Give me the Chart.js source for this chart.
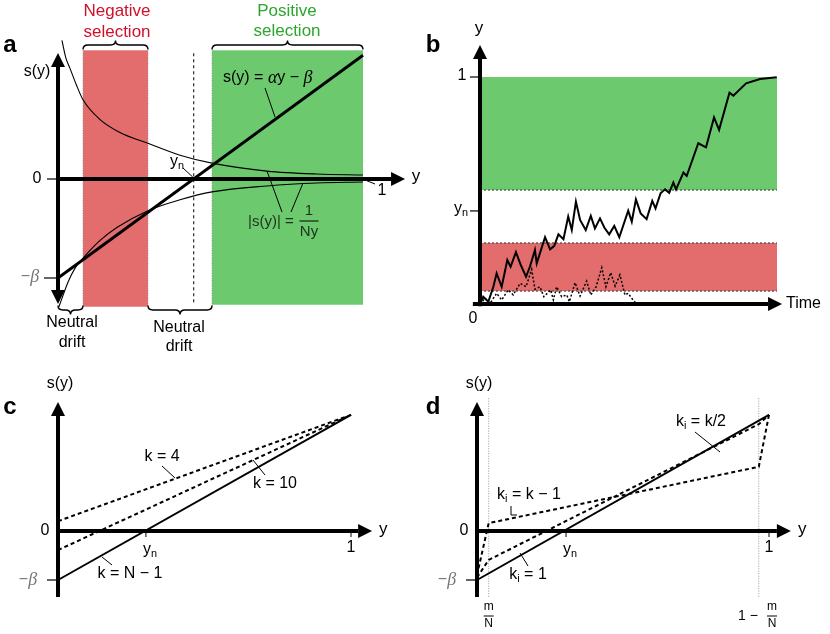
<!DOCTYPE html>
<html>
<head>
<meta charset="utf-8">
<script src="https://cdn.jsdelivr.net/npm/chart.js@4.4.1/dist/chart.umd.min.js"></script>
<style>
body { margin: 0; background: #fff; }
#fig { position: relative; width: 830px; height: 634px; }
canvas { position: absolute; }
</style>
</head>
<body>
<div id="fig">
  <canvas id="pa" width="430" height="360" style="left:0;top:0"></canvas>
  <canvas id="pb" width="415" height="360" style="left:415px;top:0"></canvas>
  <canvas id="pc" width="415" height="274" style="left:0;top:360px"></canvas>
  <canvas id="pd" width="415" height="274" style="left:415px;top:360px"></canvas>
</div>
<script>
// ---- panel a : s(y) = alpha*y - beta and |s(y)| = 1/(Ny)
const aLineX = [0, 1];
const aLineS = [-1, 1.25];
const aCurveX = [0.013, 0.026, 0.039, 0.059, 0.082, 0.138, 0.203, 0.295, 0.40, 0.505, 0.685, 0.849, 1.0];
const aUpperS = [1.40, 1.22, 1.12, 0.96, 0.80, 0.60, 0.47, 0.36, 0.24, 0.16, 0.08, 0.05, 0.04];
const aLowerX = [0.003, 0.016, 0.033, 0.056, 0.082, 0.138, 0.193, 0.295, 0.40, 0.505, 0.685, 0.849, 1.0];
const aLowerS = [-1.29, -1.18, -1.04, -0.90, -0.80, -0.62, -0.49, -0.32, -0.21, -0.13, -0.07, -0.04, -0.03];
const aNegBand = [0.082, 0.295];
const aPosBand = [0.505, 1.0];
const aYn = 0.445;

// ---- panel b : trajectories over time
const bWalkT = [0, 1.1, 2.8, 4.5, 5.6, 7.3, 9.2, 10.3, 12.1, 13.7, 15.5, 16.8, 18.5, 19.1, 21.9, 23.6, 25.0, 26.4, 28.1, 29.7,
  30.9, 32.3, 33.7, 35.6, 37.3, 38.7, 40.4, 41.9, 43.5, 45.2, 46.9, 49.9, 51.1, 52.5, 54.1, 56.1, 58.0, 59.1, 60.8, 62.3,
  63.7, 65.1, 66.0, 68.5, 69.6, 73.5, 76.1, 78.8, 80.5, 84.0, 85.3, 89.6, 94.3, 99.9];
const bWalkY = [0, 0.032, 0.010, 0.076, 0.135, 0.076, 0.194, 0.164, 0.228, 0.172, 0.120, 0.164, 0.238, 0.179, 0.294, 0.241, 0.256, 0.307, 0.285, 0.385,
  0.326, 0.451, 0.370, 0.326, 0.388, 0.333, 0.377, 0.336, 0.307, 0.344, 0.294, 0.411, 0.363, 0.461, 0.399, 0.374, 0.454, 0.421, 0.488, 0.505,
  0.490, 0.535, 0.505, 0.579, 0.564, 0.708, 0.690, 0.822, 0.767, 0.931, 0.918, 0.972, 0.991, 0.999];
const bLostT = [0, 1.7, 3.4, 5.6, 7.3, 9.5, 11.2, 13.5, 15.5, 17.4, 18.5, 20.2, 21.5, 23.8, 24.7, 25.8, 27.5, 29.2, 30.1,
  32.0, 33.7, 35.9, 37.3, 39.1, 41.0, 42.4, 44.0, 45.5, 47.1, 48.8, 49.9, 51.1, 52.7];
const bLostY = [0, 0.025, 0.003, 0.047, 0.018, 0.062, 0.040, 0.091, 0.076, 0.153, 0.065, 0.076, 0.032, 0.062, 0.018, 0.076, 0.032, 0.040, 0.010,
  0.094, 0.035, 0.101, 0.040, 0.076, 0.160, 0.076, 0.138, 0.079, 0.128, 0.040, 0.047, 0.025, 0];
const bPosBand = [0.502, 1.0];
const bNegBand = [0.057, 0.269];
const bYn = 0.41;
const bTEnd = 100;

// ---- panel c : s(y) for different k
const cX = [0, 1];
const cKN1 = [-1, 2.37];
const cK10 = [-0.39, 2.37];
const cK4 = [0.2, 2.37];
const cYn = 0.30;

// ---- panel d : heterogeneous k_i
const dX = [0, 1];
const dK1 = [-1, 2.37];
const dKinkX = [0, 0.04, 0.965, 1];
const dKHalf = [-0.95, -0.59, 2.18, 2.37];
const dKm1 = [-0.9, 0.16, 1.31, 2.37];
const dMN = [0.04, 0.965];
const dYn = 0.305;

const SANS = '"Liberation Sans", Arial, sans-serif';
const SERIF = '"Liberation Serif", "DejaVu Serif", serif';
const RED = '#e36c6c', GREEN = '#6cc96e';
const GREY = '#777';

function pts(xs, ys) { return xs.map((x, i) => ({x: x, y: ys[i]})); }

function fontOf(s) {
  return (s.style || 'normal') + ' ' + (s.weight || 'normal') + ' ' + (s.size || 16) + 'px ' + (s.family || SANS);
}
// draws a row of text pieces, each with its own font
function rich(ctx, segs, x, y, align) {
  let total = 0;
  segs.forEach(s => { ctx.font = fontOf(s); s.w = ctx.measureText(s.t).width; total += s.w; });
  let cx = align === 'left' ? x : align === 'right' ? x - total : x - total / 2;
  ctx.save();
  ctx.textAlign = 'left';
  ctx.textBaseline = 'middle';
  segs.forEach(s => {
    ctx.font = fontOf(s);
    ctx.fillStyle = s.color || '#000';
    ctx.fillText(s.t, cx, y + (s.dy || 0));
    cx += s.w;
  });
  ctx.restore();
}
function txt(ctx, t, x, y, o) {
  rich(ctx, [Object.assign({t: t}, o || {})], x, y, (o && o.align) || 'center');
}
function seg(ctx, x1, y1, x2, y2, w, dash, color) {
  ctx.save();
  ctx.lineWidth = w || 1;
  ctx.strokeStyle = color || '#000';
  ctx.setLineDash(dash || []);
  ctx.beginPath(); ctx.moveTo(x1, y1); ctx.lineTo(x2, y2); ctx.stroke();
  ctx.restore();
}
function arrow(ctx, x1, y1, x2, y2) {
  const hl = 14, hw = 7;
  const a = Math.atan2(y2 - y1, x2 - x1);
  const bx = x2 - hl * Math.cos(a), by = y2 - hl * Math.sin(a);
  seg(ctx, x1, y1, bx, by, 4);
  ctx.save();
  ctx.fillStyle = '#000';
  ctx.beginPath();
  ctx.moveTo(x2, y2);
  ctx.lineTo(bx + hw * Math.sin(a), by - hw * Math.cos(a));
  ctx.lineTo(bx - hw * Math.sin(a), by + hw * Math.cos(a));
  ctx.closePath(); ctx.fill();
  ctx.restore();
}
// curly brace, tip = -1 points up, +1 points down
function brace(ctx, x1, x2, y, tip) {
  const h = 4.5, r = 5, xm = (x1 + x2) / 2;
  ctx.save();
  ctx.lineWidth = 1.4; ctx.strokeStyle = '#000';
  ctx.beginPath();
  ctx.moveTo(x1, y - tip * h);
  ctx.quadraticCurveTo(x1, y, x1 + r, y);
  ctx.lineTo(xm - r, y);
  ctx.quadraticCurveTo(xm, y, xm, y + tip * h);
  ctx.quadraticCurveTo(xm, y, xm + r, y);
  ctx.lineTo(x2 - r, y);
  ctx.quadraticCurveTo(x2, y, x2, y - tip * h);
  ctx.stroke();
  ctx.restore();
}
function frac(ctx, num, den, x, yNum, yBar, yDen, size, barW) {
  rich(ctx, num, x, yNum, 'center');
  seg(ctx, x - barW / 2, yBar, x + barW / 2, yBar, 1);
  rich(ctx, den, x, yDen, 'center');
}
const sub = (b, s, size) => [{t: b, size: size || 16}, {t: s, size: (size || 16) * 0.68, dy: 4}];
const minusBeta = [{t: '\u2212', color: GREY, size: 16}, {t: '\u03B2', family: SERIF, style: 'italic', size: 18, color: GREY}];

function makeChart(id, xr, yr, datasets, plugin) {
  return new Chart(document.getElementById(id), {
    type: 'scatter',
    data: {datasets: datasets},
    options: {
      responsive: false,
      animation: false,
      layout: {padding: 0},
      plugins: {legend: {display: false}, tooltip: {enabled: false}},
      elements: {point: {radius: 0}},
      scales: {
        x: {type: 'linear', min: xr[0], max: xr[1], display: false},
        y: {type: 'linear', min: yr[0], max: yr[1], display: false}
      }
    },
    plugins: [plugin]
  });
}
function lineDs(data, w, dash, extra) {
  return Object.assign({data: data, showLine: true, borderColor: '#000', borderWidth: w,
    borderDash: dash || [], tension: 0, pointRadius: 0, fill: false}, extra || {});
}
function scalesOf(chart) {
  const sx = chart.scales.x, sy = chart.scales.y;
  return [v => sx.getPixelForValue(v), v => sy.getPixelForValue(v)];
}

// ================= panel a
makeChart('pa', [-58 / 305, 372 / 305], [-181 / 99, 179 / 99], [
  lineDs(pts(aCurveX, aUpperS), 1.1, [], {cubicInterpolationMode: 'monotone'}),
  lineDs(pts(aLowerX, aLowerS), 1.1, [], {cubicInterpolationMode: 'monotone'}),
  lineDs(pts(aLineX, aLineS), 2.8)
], {
  id: 'panelA',
  beforeDatasetsDraw(chart) {
    const ctx = chart.ctx, [X, Y] = scalesOf(chart);
    const top = Y(1.30), bot = Y(-1.29);
    ctx.fillStyle = RED;
    ctx.fillRect(X(aNegBand[0]), top, X(aNegBand[1]) - X(aNegBand[0]), bot - top);
    ctx.fillStyle = GREEN;
    ctx.fillRect(X(aPosBand[0]), top, X(aPosBand[1]) - X(aPosBand[0]), Y(-1.27) - top);
    [aNegBand[0], aNegBand[1], aPosBand[0]].forEach(v => seg(ctx, X(v), top, X(v), bot, 1, [1, 1.5], '#999'));
    seg(ctx, X(aYn), Y(1.27), X(aYn), Y(-1.265), 1, [3, 3]);
  },
  afterDatasetsDraw(chart) {
    const ctx = chart.ctx, [X, Y] = scalesOf(chart);
    // axes
    seg(ctx, X(0) - 11, Y(0), X(0), Y(0), 1.2);
    arrow(ctx, X(0), Y(0), X(1.138), Y(0));
    arrow(ctx, X(0), Y(0), X(0), Y(1.273));
    arrow(ctx, X(0), Y(0), X(0), Y(-1.263));
    seg(ctx, X(0) - 14, Y(-1), X(0), Y(-1), 1.2);
    txt(ctx, '0', X(0) - 21, Y(0), {size: 16});
    rich(ctx, minusBeta, X(0) - 28, Y(-1) - 1, 'center');
    txt(ctx, 's(y)', X(0) - 21, 72, {size: 16});
    txt(ctx, 'y', 416, 176, {size: 17});
    txt(ctx, '1', 382, 191, {size: 16});
    seg(ctx, 365, 180, 375, 184, 1);
    rich(ctx, sub('y', 'n'), 177, 162, 'center');
    seg(ctx, 183, 168, X(aYn) - 1, Y(0) - 2, 1);
    // label of the straight line
    rich(ctx, [{t: 's(y) = ', size: 16}, {t: '\u03B1', family: SERIF, style: 'italic', size: 18},
      {t: 'y \u2212 ', size: 16}, {t: '\u03B2', family: SERIF, style: 'italic', size: 18}], 223, 78, 'left');
    seg(ctx, 265, 88, 275, 117, 1);
    // |s(y)| = 1/Ny
    rich(ctx, [{t: '|s(y)| =', size: 15, color: '#1d331d'}], 248, 222, 'left');
    frac(ctx, [{t: '1', size: 15, color: '#1d331d'}], [{t: 'Ny', size: 15, color: '#1d331d'}], 309, 211, 221, 232, 15, 19);
    seg(ctx, 282, 212, 267, 171, 1);
    seg(ctx, 291, 212, 303, 183, 1);
    // selection regimes
    txt(ctx, 'Negative', 117, 11, {size: 17, color: '#d0102a'});
    txt(ctx, 'selection', 117, 32, {size: 17, color: '#d0102a'});
    txt(ctx, 'Positive', 287, 11, {size: 17, color: '#2ca52c'});
    txt(ctx, 'selection', 287, 31, {size: 17, color: '#2ca52c'});
    brace(ctx, X(aNegBand[0]), X(aNegBand[1]), 45, -1);
    brace(ctx, X(aPosBand[0]), X(aPosBand[1]), 45, -1);
    brace(ctx, X(0), X(aNegBand[0]), 310, 1);
    brace(ctx, X(aNegBand[1]), X(aPosBand[0]), 310, 1);
    txt(ctx, 'Neutral', 72, 323, {size: 16});
    txt(ctx, 'drift', 72, 343, {size: 16});
    txt(ctx, 'Neutral', 179, 328, {size: 16});
    txt(ctx, 'drift', 179, 347, {size: 16});
    txt(ctx, 'a', 10, 45, {size: 24, weight: 'bold'});
  }
});

// ================= panel b
makeChart('pb', [-65 / 2.97, 350 / 2.97], [-56 / 227, 304 / 227], [
  lineDs(pts(bLostT, bLostY), 1.5, [2, 2]),
  lineDs(pts(bWalkT, bWalkY), 2)
], {
  id: 'panelB',
  beforeDatasetsDraw(chart) {
    const ctx = chart.ctx, [X, Y] = scalesOf(chart);
    ctx.fillStyle = GREEN;
    ctx.fillRect(X(0), Y(bPosBand[1]), X(bTEnd) - X(0), Y(bPosBand[0]) - Y(bPosBand[1]));
    ctx.fillStyle = RED;
    ctx.fillRect(X(0), Y(bNegBand[1]), X(bTEnd) - X(0), Y(bNegBand[0]) - Y(bNegBand[1]));
    [bPosBand[0], bNegBand[1], bNegBand[0]].forEach(v => seg(ctx, X(0), Y(v), X(bTEnd), Y(v), 1, [2, 2], '#333'));
  },
  afterDatasetsDraw(chart) {
    const ctx = chart.ctx, [X, Y] = scalesOf(chart);
    arrow(ctx, X(0), Y(-0.01), X(0), Y(1.141));
    arrow(ctx, X(-2.4), Y(0), X(101.7), Y(0));
    seg(ctx, X(0) - 10, Y(1), X(0), Y(1), 1.2);
    seg(ctx, X(0) - 10, Y(bYn), X(0), Y(bYn), 1.2);
    txt(ctx, '1', 47, Y(1) - 1, {size: 16});
    rich(ctx, sub('y', 'n'), 46, Y(bYn) - 2, 'center');
    txt(ctx, '0', 58, 319, {size: 16});
    txt(ctx, 'y', 64, 28, {size: 17});
    txt(ctx, 'Time', 371, 304, {size: 16, align: 'left'});
    txt(ctx, 'b', 18, 45, {size: 24, weight: 'bold'});
  }
});

// shared axes for panels c and d
function kAxes(ctx, X, Y, xTip, yn) {
  arrow(ctx, X(0), Y(-1.347), X(0), Y(2.633));
  arrow(ctx, X(0), Y(0), X(xTip), Y(0));
  seg(ctx, X(0) - 11, Y(-1), X(0), Y(-1), 1.2);
  seg(ctx, X(yn), Y(0), X(yn), Y(0) + 6, 1);
  seg(ctx, X(1), Y(0), X(1), Y(0) + 6, 1);
  txt(ctx, '0', X(0) - 13, Y(0), {size: 16});
  rich(ctx, minusBeta, X(0) - 30, Y(-1), 'center');
  rich(ctx, sub('y', 'n'), X(yn) + 4, Y(0) + 19, 'center');
  txt(ctx, '1', X(1), Y(0) + 17, {size: 16});
  txt(ctx, 'y', X(xTip) + 7, Y(0) - 2, {size: 17, align: 'left'});
  txt(ctx, 's(y)', X(0) + 2, 24, {size: 16});
}

// ================= panel c
makeChart('pc', [-58 / 293, 357 / 293], [-103 / 49, 171 / 49], [
  lineDs(pts(cX, cK4), 2, [4, 3]),
  lineDs(pts(cX, cK10), 2, [4, 3]),
  lineDs(pts(cX, cKN1), 2)
], {
  id: 'panelC',
  afterDatasetsDraw(chart) {
    const ctx = chart.ctx, [X, Y] = scalesOf(chart);
    kAxes(ctx, X, Y, 1.072, cYn);
    txt(ctx, 'k = 4', 162, 97, {size: 16});
    seg(ctx, 162, 106, 175, 118, 1);
    txt(ctx, 'k = 10', 275, 124, {size: 16});
    seg(ctx, 265, 115, 253, 100, 1);
    txt(ctx, 'k = N \u2212 1', 130, 214, {size: 16});
    seg(ctx, 112, 205, 102, 197, 1);
    txt(ctx, 'c', 10, 47, {size: 24, weight: 'bold'});
  }
});

// ================= panel d
makeChart('pd', [-62 / 292, 353 / 292], [-103 / 49, 171 / 49], [
  lineDs(pts(dKinkX, dKm1), 2, [4, 3]),
  lineDs(pts(dKinkX, dKHalf), 2, [4, 3]),
  lineDs(pts(dX, dK1), 2)
], {
  id: 'panelD',
  beforeDatasetsDraw(chart) {
    const ctx = chart.ctx, [X, Y] = scalesOf(chart);
    dMN.forEach(v => seg(ctx, X(v), Y(2.71), X(v), Y(-1.347), 1, [1, 1.5], '#999'));
  },
  afterDatasetsDraw(chart) {
    const ctx = chart.ctx, [X, Y] = scalesOf(chart);
    kAxes(ctx, X, Y, 1.075, dYn);
    const m = [{t: 'm', size: 12}], n = [{t: 'N', size: 12}];
    frac(ctx, m, n, X(dMN[0]), 247, 256, 264, 12, 10);
    txt(ctx, '1 \u2212', 333, 256, {size: 14});
    frac(ctx, m, n, 357, 247, 256, 264, 12, 10);
    rich(ctx, sub('k', 'i').concat([{t: ' = k/2', size: 16}]), 286, 62, 'center');
    seg(ctx, 280, 72, 305, 92, 1);
    rich(ctx, sub('k', 'i').concat([{t: ' = k \u2212 1', size: 16}]), 114, 135, 'center');
    seg(ctx, 96, 146, 96, 155, 1);
    seg(ctx, 96, 155, 102, 155, 1);
    rich(ctx, sub('k', 'i').concat([{t: ' = 1', size: 16}]), 113, 215, 'center');
    seg(ctx, 113, 206, 105, 193, 1);
    txt(ctx, 'd', 18, 47, {size: 24, weight: 'bold'});
  }
});
</script>
</body>
</html>
